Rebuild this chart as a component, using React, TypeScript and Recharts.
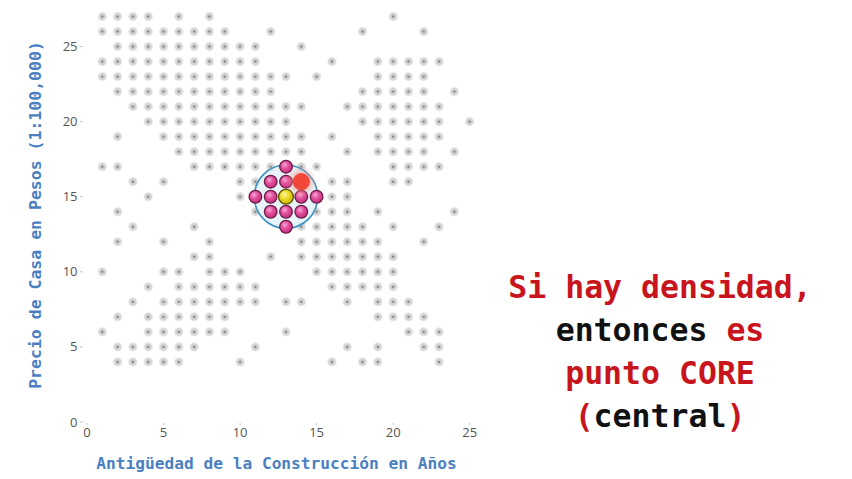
import { ScatterChart, Scatter, XAxis, YAxis } from 'recharts';

// grey sample points: one list of ages (x) per price level (y)
const priceLevels = [27, 26, 25, 24, 23, 22, 21, 20, 19, 18, 17, 16, 15, 14, 13, 12, 11, 10, 9, 8, 7, 6, 5, 4];
const agesPerLevel: number[][] = [
  [1, 2, 3, 4, 6, 8, 20],
  [1, 2, 3, 4, 5, 6, 7, 8, 9, 12, 18, 22],
  [2, 3, 4, 5, 6, 7, 8, 9, 10, 11, 14],
  [1, 2, 3, 4, 5, 6, 7, 8, 9, 10, 11, 16, 19, 20, 21, 22, 23],
  [1, 2, 3, 4, 5, 6, 7, 8, 9, 10, 11, 12, 13, 15, 19, 20, 21, 22],
  [2, 3, 4, 5, 6, 7, 8, 9, 10, 11, 12, 18, 19, 20, 21, 22, 24],
  [3, 4, 5, 6, 7, 8, 9, 10, 11, 12, 13, 14, 17, 18, 19, 20, 21, 22, 23],
  [4, 5, 6, 7, 8, 9, 10, 11, 12, 13, 18, 19, 20, 21, 22, 23, 25],
  [2, 5, 6, 7, 8, 9, 10, 11, 12, 13, 14, 16, 19, 20, 21, 22, 23],
  [6, 7, 8, 9, 10, 11, 12, 13, 14, 17, 19, 20, 21, 22, 24],
  [1, 2, 7, 8, 9, 10, 11, 12, 14, 15, 20, 21, 22, 23],
  [3, 5, 10, 11, 16, 17, 20, 21],
  [4, 10, 16, 17],
  [2, 11, 15, 16, 17, 19, 24],
  [3, 7, 14, 15, 16, 17, 18, 20, 23],
  [2, 5, 8, 14, 15, 16, 17, 18, 19, 22],
  [7, 8, 12, 14, 15, 16, 17, 18, 19, 20],
  [1, 5, 6, 8, 9, 10, 15, 16, 17, 18, 19, 20],
  [4, 6, 7, 8, 9, 10, 11, 16, 17, 18, 19, 20],
  [3, 5, 6, 7, 8, 9, 10, 11, 13, 14, 17, 19, 20, 21],
  [2, 4, 5, 6, 7, 8, 9, 19, 20, 21, 22],
  [1, 4, 5, 6, 7, 8, 9, 13, 21, 22, 23],
  [2, 3, 4, 5, 6, 7, 11, 17, 19, 22, 23],
  [2, 3, 4, 5, 6, 10, 16, 18, 19, 23],
];

// neighbours inside epsilon (pink), the core point (yellow), next candidate (red)
const neighbourAges = [13, 12, 13, 11, 12, 14, 15, 12, 13, 14, 13];
const neighbourPrices = [17, 16, 16, 15, 15, 15, 15, 14, 14, 14, 13];
const corePoint = [{ x: 13, y: 15 }];
const nextPoint = [{ x: 14, y: 16 }];
const EPS = 2.07;

const xTicks = [0, 5, 10, 15, 20, 25];
const yTicks = [0, 5, 10, 15, 20, 25];
const X_DOMAIN: [number, number] = [0, 26];
const Y_DOMAIN: [number, number] = [0, 27.5];

const greyPoints = priceLevels.flatMap((y, i) => agesPerLevel[i].map((x) => ({ x, y })));
const neighbours = neighbourAges.map((x, i) => ({ x, y: neighbourPrices[i] }));

const W = 852;
const H = 479;
const MARGIN = { top: 9, right: 367, bottom: 0, left: 0 };
const Y_AXIS_W = 87;
const PX_PER_X = (W - Y_AXIS_W - MARGIN.left - MARGIN.right) / (X_DOMAIN[1] - X_DOMAIN[0]);

const BLUE = '#4a7fc1';
const RED = '#c8141c';
const MONO = '"DejaVu Sans Mono", "Liberation Mono", monospace';

const XTick = (props: any) => {
  const { x, y, payload } = props;
  return (
    <g>
      <line x1={x} x2={x} y1={y + 1} y2={y + 3} stroke="#c4c4c4" />
      <text x={x} y={y + 14.5} textAnchor="middle" fontSize={13} fill="#555" fontFamily="Open Sans, sans-serif">
        {payload.value}
      </text>
    </g>
  );
};

const YTick = (props: any) => {
  const { x, y, payload } = props;
  return (
    <g>
      <line x1={x - 7} x2={x - 4} y1={y} y2={y} stroke="#c4c4c4" />
      <text x={x - 9.5} y={y + 4.5} textAnchor="end" fontSize={13} fill="#555" fontFamily="Open Sans, sans-serif">
        {payload.value}
      </text>
    </g>
  );
};

const GreyDot = (props: any) => {
  const { cx, cy } = props;
  return (
    <g>
      <circle cx={cx} cy={cy} r={4.9} fill="url(#greyGrad)" />
      <circle cx={cx} cy={cy} r={1.2} fill="#8c8c8c" />
    </g>
  );
};

const EpsCircle = (props: any) => {
  const { cx, cy } = props;
  return <circle cx={cx} cy={cy} r={EPS * PX_PER_X} fill="rgba(205,228,242,0.45)" stroke="#3b93c4" strokeWidth={1.6} />;
};

const PinkDot = (props: any) => {
  const { cx, cy } = props;
  return <circle cx={cx} cy={cy} r={6.3} fill="url(#pinkGrad)" stroke="#6e1c48" strokeWidth={1.3} />;
};

const YellowDot = (props: any) => {
  const { cx, cy } = props;
  return <circle cx={cx} cy={cy} r={7.4} fill="url(#yellowGrad)" stroke="#5e5400" strokeWidth={1.3} />;
};

const RedDot = (props: any) => {
  const { cx, cy } = props;
  return (
    <g>
      <circle cx={cx} cy={cy} r={16} fill="url(#glowGrad)" />
      <circle cx={cx} cy={cy} r={8.6} fill="#f2483a" />
    </g>
  );
};

export default function App() {
  return (
    <div style={{ position: 'absolute', left: 0, top: 0, width: W, height: H, background: '#fff' }}>
      <ScatterChart width={W} height={H} margin={MARGIN}>
        <defs>
          <radialGradient id="greyGrad">
            <stop offset="0%" stopColor="#c6c6c6" />
            <stop offset="65%" stopColor="#d6d6d6" />
            <stop offset="100%" stopColor="#e4e4e4" stopOpacity={0.35} />
          </radialGradient>
          <radialGradient id="pinkGrad" cx="40%" cy="35%" r="65%">
            <stop offset="0%" stopColor="#f7a8d6" />
            <stop offset="45%" stopColor="#e4529f" />
            <stop offset="100%" stopColor="#c22f7e" />
          </radialGradient>
          <radialGradient id="yellowGrad" cx="40%" cy="35%" r="65%">
            <stop offset="0%" stopColor="#fbf5a0" />
            <stop offset="45%" stopColor="#eedc2e" />
            <stop offset="100%" stopColor="#c9b300" />
          </radialGradient>
          <radialGradient id="glowGrad">
            <stop offset="45%" stopColor="#f2786a" stopOpacity={0.5} />
            <stop offset="100%" stopColor="#f7b0a8" stopOpacity={0} />
          </radialGradient>
        </defs>
        <XAxis
          type="number"
          dataKey="x"
          domain={X_DOMAIN}
          ticks={xTicks}
          interval={0}
          axisLine={false}
          tickLine={false}
          tickSize={0}
          tickMargin={0}
          height={H - 422}
          tick={<XTick />}
        />
        <YAxis
          type="number"
          dataKey="y"
          domain={Y_DOMAIN}
          ticks={yTicks}
          interval={0}
          axisLine={false}
          tickLine={false}
          tickSize={0}
          tickMargin={0}
          width={Y_AXIS_W}
          tick={<YTick />}
        />
        <Scatter data={greyPoints} shape={<GreyDot />} isAnimationActive={false} />
        <Scatter data={corePoint} shape={<EpsCircle />} isAnimationActive={false} />
        <Scatter data={neighbours} shape={<PinkDot />} isAnimationActive={false} />
        <Scatter data={corePoint} shape={<YellowDot />} isAnimationActive={false} />
        <Scatter data={nextPoint} shape={<RedDot />} isAnimationActive={false} />
      </ScatterChart>
      <svg
        width={W}
        height={H}
        style={{ position: 'absolute', left: 0, top: 0, pointerEvents: 'none' }}
      >
        <text x={276.5} y={469} textAnchor="middle" fontFamily={MONO} fontWeight="bold" fontSize={16.2} fill={BLUE}>
          Antigüedad de la Construcción en Años
        </text>
        <text
          x={0}
          y={0}
          transform="translate(41 215) rotate(-90)"
          textAnchor="middle"
          fontFamily={MONO}
          fontWeight="bold"
          fontSize={16.5}
          fill={BLUE}
        >
          Precio de Casa en Pesos (1:100,000)
        </text>
        <g fontFamily={MONO} fontWeight="bold" fontSize={31.5} textAnchor="middle" style={{ whiteSpace: 'pre' }}>
          <text x={660} y={298} fill={RED}>Si hay densidad,</text>
          <text x={660} y={341}>
            <tspan fill="#111">entonces </tspan>
            <tspan fill={RED}>es</tspan>
          </text>
          <text x={660} y={384} fill={RED}>punto CORE</text>
          <text x={660} y={427}>
            <tspan fill={RED}>(</tspan>
            <tspan fill="#111">central</tspan>
            <tspan fill={RED}>)</tspan>
          </text>
        </g>
      </svg>
    </div>
  );
}
